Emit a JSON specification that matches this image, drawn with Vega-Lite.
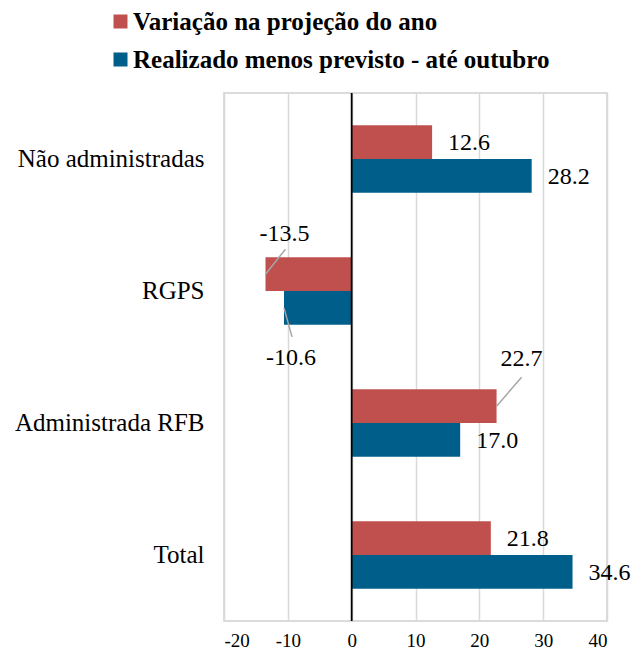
{
  "$schema": "https://vega.github.io/schema/vega-lite/v6.json",
  "autosize": {"type": "none"},
  "padding": {"left": 224, "top": 93, "right": 28, "bottom": 31},
  "width": 383,
  "height": 528,
  "background": "white",
  "config": {
    "font": "Liberation Serif",
    "view": {"stroke": "#CFCFCF", "strokeWidth": 1.5},
    "axis": {"labelColor": "#000000", "labelFont": "Liberation Serif"},
    "text": {"font": "Liberation Serif"},
    "locale": {"number": {"decimal": ".", "thousands": ",", "grouping": [3], "currency": ["$", ""], "minus": "-"}}
  },
  "data": {
    "values": [
      {"categoria": "Não administradas", "serie": "Variação na projeção do ano", "valor": 12.6},
      {"categoria": "Não administradas", "serie": "Realizado menos previsto - até outubro", "valor": 28.2},
      {"categoria": "RGPS", "serie": "Variação na projeção do ano", "valor": -13.5},
      {"categoria": "RGPS", "serie": "Realizado menos previsto - até outubro", "valor": -10.6},
      {"categoria": "Administrada RFB", "serie": "Variação na projeção do ano", "valor": 22.7},
      {"categoria": "Administrada RFB", "serie": "Realizado menos previsto - até outubro", "valor": 17.0},
      {"categoria": "Total", "serie": "Variação na projeção do ano", "valor": 21.8},
      {"categoria": "Total", "serie": "Realizado menos previsto - até outubro", "valor": 34.6}
    ]
  },
  "encoding": {
    "y": {
      "field": "categoria",
      "type": "nominal",
      "sort": ["Não administradas", "RGPS", "Administrada RFB", "Total"],
      "scale": {"paddingInner": 0.49, "paddingOuter": 0.245},
      "axis": {"title": null, "domain": false, "ticks": false, "labelFontSize": 25, "labelPadding": 20, "labelLimit": 400, "labelColor": "#000000"}
    },
    "yOffset": {
      "field": "serie",
      "type": "nominal",
      "sort": ["Variação na projeção do ano", "Realizado menos previsto - até outubro"],
      "scale": {"paddingInner": 0, "paddingOuter": 0}
    },
    "x": {
      "field": "valor",
      "type": "quantitative",
      "scale": {"domain": [-20, 40], "nice": false},
      "axis": {
        "title": null,
        "values": [-20, -10, 0, 10, 20, 30, 40],
        "format": "d",
        "domain": false,
        "ticks": false,
        "grid": true,
        "gridColor": "#D9D9D9",
        "gridWidth": 1.5,
        "labelFontSize": 19,
        "labelPadding": 10,
        "labelColor": "#000000"
      }
    }
  },
  "layer": [
    {
      "mark": {"type": "bar"},
      "encoding": {
        "color": {
          "field": "serie",
          "type": "nominal",
          "sort": ["Variação na projeção do ano", "Realizado menos previsto - até outubro"],
          "scale": {"domain": ["Variação na projeção do ano", "Realizado menos previsto - até outubro"], "range": ["#C0504D", "#005E8A"]},
          "legend": {
            "title": null,
            "orient": "none",
            "legendX": -116,
            "legendY": -84,
            "direction": "vertical",
            "symbolType": "square",
            "symbolSize": 196,
            "symbolStrokeWidth": 0,
            "symbolOpacity": 1,
            "labelFontSize": 25,
            "labelFontWeight": "bold",
            "labelFont": "Liberation Serif",
            "labelColor": "#000000",
            "labelOffset": 0,
            "rowPadding": 12,
            "padding": 0,
            "labelLimit": 500
          }
        }
      }
    },
    {
      "data": {"values": [{"zero": 0}]},
      "mark": {"type": "rule", "color": "#000000", "strokeWidth": 1.8},
      "encoding": {"x": {"field": "zero", "type": "quantitative"}, "y": null, "yOffset": null}
    },
    {
      "transform": [{"filter": "datum.valor > 0 && datum.valor != 22.7"}],
      "mark": {"type": "text", "align": "left", "baseline": "middle", "dx": 16, "dy": 1, "fontSize": 24, "font": "Liberation Serif", "color": "#000000"},
      "encoding": {"text": {"field": "valor", "type": "quantitative", "format": ".1f"}}
    },
    {
      "transform": [{"filter": "datum.valor == -13.5"}],
      "mark": {"type": "text", "align": "center", "baseline": "middle", "dx": 19, "dy": -40, "fontSize": 24, "font": "Liberation Serif", "color": "#000000"},
      "encoding": {"text": {"field": "valor", "type": "quantitative", "format": ".1f"}}
    },
    {
      "transform": [{"filter": "datum.valor == -10.6"}],
      "mark": {"type": "text", "align": "center", "baseline": "middle", "dx": 7, "dy": 50, "fontSize": 24, "font": "Liberation Serif", "color": "#000000"},
      "encoding": {"text": {"field": "valor", "type": "quantitative", "format": ".1f"}}
    },
    {
      "transform": [{"filter": "datum.valor == 22.7"}],
      "mark": {"type": "text", "align": "center", "baseline": "middle", "dx": 25, "dy": -47, "fontSize": 24, "font": "Liberation Serif", "color": "#000000"},
      "encoding": {"text": {"field": "valor", "type": "quantitative", "format": ".1f"}}
    },
    {
      "transform": [{"filter": "datum.valor == -13.5"}],
      "mark": {"type": "point", "shape": "M0,0L20,-25", "size": 4, "filled": false, "stroke": "#A6A6A6", "strokeWidth": 1.5, "opacity": 1}
    },
    {
      "transform": [{"filter": "datum.valor == -10.6"}],
      "mark": {"type": "point", "shape": "M0,0L8,29", "size": 4, "filled": false, "stroke": "#A6A6A6", "strokeWidth": 1.5, "opacity": 1}
    },
    {
      "transform": [{"filter": "datum.valor == 22.7"}],
      "mark": {"type": "point", "shape": "M0,0L25,-29", "size": 4, "filled": false, "stroke": "#A6A6A6", "strokeWidth": 1.5, "opacity": 1}
    }
  ]
}
